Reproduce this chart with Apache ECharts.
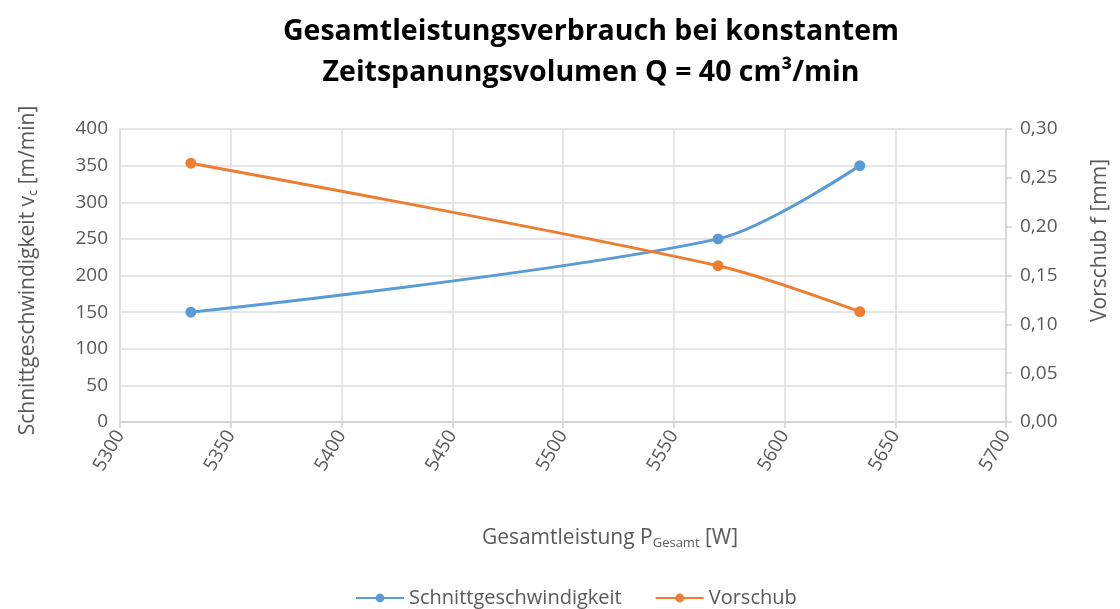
<!DOCTYPE html>
<html>
<head>
<meta charset="utf-8">
<script src="https://cdn.jsdelivr.net/npm/echarts@6/dist/echarts.min.js"></script>
<style>
  html, body { margin: 0; padding: 0; background: #fff; }
  #chart { width: 1120px; height: 609px; }
</style>
</head>
<body>
<div id="chart"></div>
<script>
// Gesamtleistung P_Gesamt [W]
const powerW = [5332, 5570, 5634]
// Schnittgeschwindigkeit v_c [m/min]
const cuttingSpeed = [150, 250, 350]
// Vorschub f [mm]
const feed = [0.265, 0.16, 0.113]

const blue = '#5B9BD5'
const orange = '#ED7D31'
const grey = '#595959'
const font = 'Open Sans'

const myChart = echarts.init(document.getElementById('chart'))

const options = {
  animation: false,
  title: {
    text: 'Gesamtleistungsverbrauch bei konstantem\nZeitspanungsvolumen Q = 40 cm³/min',
    left: 586,
    top: 6,
    textAlign: 'center',
    textStyle: {
      fontFamily: font,
      fontWeight: 'bold',
      fontSize: 28.5,
      lineHeight: 41,
      color: '#000'
    }
  },
  legend: {
    top: 587,
    left: 355,
    padding: 0,
    itemWidth: 48,
    itemHeight: 11,
    itemGap: 33,
    textStyle: { fontFamily: font, fontSize: 20, lineHeight: 22, color: grey },
    data: ['Schnittgeschwindigkeit', 'Vorschub']
  },
  grid: {
    left: 120,
    right: 114,
    top: 129,
    bottom: 187,
    containLabel: false
  },
  xAxis: {
    type: 'value',
    min: 5300,
    max: 5700,
    interval: 50,
    name: 'Gesamtleistung P{sub|Gesamt} [W]',
    nameLocation: 'middle',
    nameGap: 105,
    nameTextStyle: {
      fontFamily: font,
      fontSize: 21,
      color: grey,
      padding: [0, 0, 0, 94],
      rich: {
        sub: { fontFamily: font, fontSize: 13, color: grey, verticalAlign: 'bottom', padding: [10, 0, 0, 0] }
      }
    },
    axisLine: { show: true, lineStyle: { color: '#d0d0d0', width: 1.5 } },
    axisTick: { show: true, length: 6, lineStyle: { color: '#d0d0d0', width: 1.5 } },
    axisLabel: {
      rotate: 60,
      margin: 10,
      fontFamily: font,
      fontSize: 19,
      color: grey,
      formatter: (v) => String(v)
    },
    splitLine: { show: true, lineStyle: { color: '#dedede', width: 1.5 } }
  },
  yAxis: [
    {
      type: 'value',
      min: 0,
      max: 400,
      interval: 50,
      name: 'Schnittgeschwindigkeit v{sub|c} [m/min]',
      nameLocation: 'middle',
      nameRotate: 90,
      nameGap: 80,
      nameTextStyle: {
        fontFamily: font,
        fontSize: 21,
        color: grey,
        padding: [0, 0, 0, 10],
        rich: {
          sub: { fontFamily: font, fontSize: 13, color: grey, verticalAlign: 'bottom', padding: [10, 0, 0, 0] }
        }
      },
      axisLine: { show: true, lineStyle: { color: '#dedede', width: 1.5 } },
      axisTick: { show: false },
      axisLabel: { fontFamily: font, fontSize: 19, color: grey, margin: 12 },
      splitLine: { show: true, lineStyle: { color: '#dedede', width: 1.5 } }
    },
    {
      type: 'value',
      min: 0,
      max: 0.3,
      interval: 0.05,
      position: 'right',
      name: 'Vorschub f [mm]',
      nameLocation: 'middle',
      nameRotate: 90,
      nameGap: 84,
      nameTextStyle: {
        fontFamily: font,
        fontSize: 21,
        color: grey,
        padding: [0, 0, 0, 70]
      },
      axisLine: { show: true, lineStyle: { color: '#d0d0d0', width: 1.5 } },
      axisTick: { show: true, length: 6, lineStyle: { color: '#d0d0d0', width: 1.5 } },
      axisLabel: {
        fontFamily: font,
        fontSize: 19,
        color: grey,
        margin: 14,
        formatter: (v) => v.toFixed(2).replace('.', ',')
      },
      splitLine: { show: false }
    }
  ],
  series: [
    {
      name: 'Schnittgeschwindigkeit',
      type: 'line',
      yAxisIndex: 0,
      smooth: 0.3,
      symbol: 'circle',
      symbolSize: 11,
      itemStyle: { color: blue },
      lineStyle: { color: blue, width: 3 },
      data: powerW.map((x, i) => [x, cuttingSpeed[i]])
    },
    {
      name: 'Vorschub',
      type: 'line',
      yAxisIndex: 1,
      smooth: 0.3,
      symbol: 'circle',
      symbolSize: 11,
      itemStyle: { color: orange },
      lineStyle: { color: orange, width: 3 },
      data: powerW.map((x, i) => [x, feed[i]])
    }
  ]
}

myChart.setOption(options)
</script>
</body>
</html>
